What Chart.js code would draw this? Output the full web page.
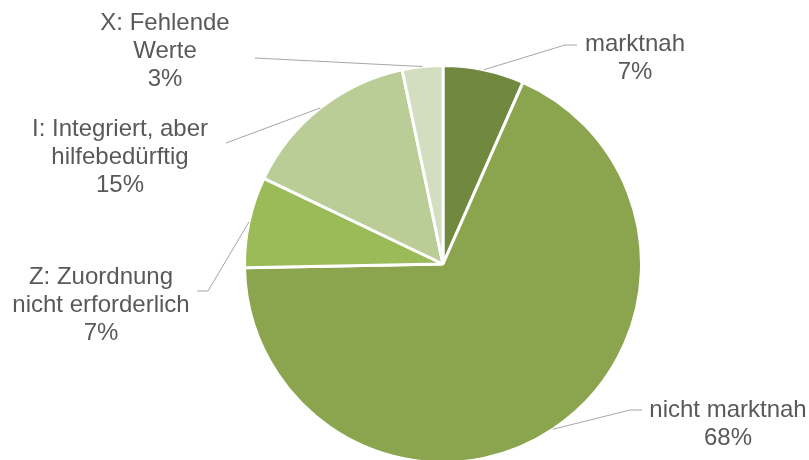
<!DOCTYPE html>
<html>
<head>
<meta charset="utf-8">
<script src="https://cdn.jsdelivr.net/npm/chart.js@4"></script>
<style>
    html, body { margin: 0; padding: 0; overflow: hidden; background: #fff; }
    .wrap { width: 809px; height: 465px; position: relative; }
</style>
</head>
<body>
<div class="wrap"><canvas id="pie-chart"></canvas></div>
<script>
// data
const categories = [
    ["marktnah"],
    ["nicht marktnah"],
    ["Z: Zuordnung", "nicht erforderlich"],
    ["I: Integriert, aber", "hilfebedürftig"],
    ["X: Fehlende", "Werte"],
];
const shares = [6.6, 68.1, 7.4, 14.6, 3.3];
const sliceColors = ["#71893F", "#8AA54E", "#9BBB59", "#BACD96", "#D3DEC1"];

// label placement: text centre, first line y, leader elbow, leader end
const labelSpots = [
    { x: 635, y: 44, elbow: [565, 45], end: [577, 45] },
    { x: 728, y: 410, elbow: [630, 410], end: [642, 410] },
    { x: 101, y: 277, elbow: [208, 291], end: [197, 291] },
    { x: 120, y: 129, elbow: [226, 143], end: null },
    { x: 165, y: 23, elbow: [255, 58], end: null },
];

const outsideLabels = {
    id: "outsideLabels",
    afterDatasetsDraw(chart) {
        const ctx = chart.ctx;
        const arcs = chart.getDatasetMeta(0).data;
        ctx.save();
        arcs.forEach((arc, i) => {
            const spot = labelSpots[i];
            const mid = (arc.startAngle + arc.endAngle) / 2;
            const r = arc.outerRadius;
            const sx = arc.x + Math.cos(mid) * r;
            const sy = arc.y + Math.sin(mid) * r;

            ctx.strokeStyle = "#A6A6A6";
            ctx.lineWidth = 1;
            ctx.beginPath();
            ctx.moveTo(sx, sy);
            ctx.lineTo(spot.elbow[0], spot.elbow[1]);
            if (spot.end) ctx.lineTo(spot.end[0], spot.end[1]);
            ctx.stroke();

            const lines = categories[i].concat([Math.round(shares[i]) + "%"]);
            ctx.fillStyle = "#595959";
            ctx.font = "24px 'Liberation Sans', Arial, sans-serif";
            ctx.textAlign = "center";
            ctx.textBaseline = "middle";
            lines.forEach((t, k) => {
                ctx.fillText(t, spot.x, spot.y + k * 28);
            });
        });
        ctx.restore();
    },
};

// chart
new Chart(document.getElementById("pie-chart"), {
    type: "pie",
    data: {
        labels: categories,
        datasets: [
            {
                data: shares,
                backgroundColor: sliceColors,
                borderColor: "#FFFFFF",
                borderWidth: 3,
            },
        ],
    },
    options: {
        responsive: true,
        maintainAspectRatio: false,
        animation: false,
        layout: { padding: { top: 64, bottom: 1, left: 243, right: 166 } },
        plugins: {
            legend: { display: false },
            tooltip: { enabled: false },
        },
    },
    plugins: [outsideLabels],
});
</script>
</body>
</html>
